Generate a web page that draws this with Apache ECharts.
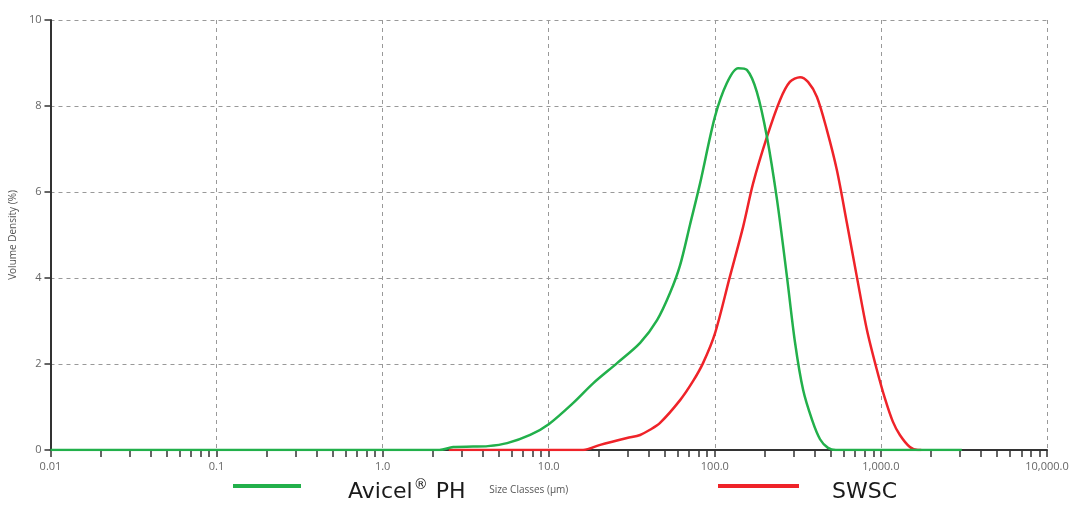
<!DOCTYPE html>
<html>
<head>
<meta charset="utf-8">
<script src="https://cdn.jsdelivr.net/npm/echarts@6/dist/echarts.min.js"></script>
<style>html,body{margin:0;padding:0;background:#fff}#c{width:1076px;height:508px}</style>
</head>
<body>
<div id="c"></div>
<script>
// ---- data ----
const seriesNames = ['Avicel® PH', 'SWSC'];
const avicelSize = [0.01, 2.2, 2.66, 3.5, 4.3, 5.62, 7.73, 10, 14.0, 18.5, 25.8, 35.5, 44.9, 53.7, 61.8, 71.0, 81.5, 100, 118, 138, 156, 179, 206, 237, 272, 304, 340, 385, 430, 480, 536, 3070];
const avicelVal  = [0, 0, 0.07, 0.08, 0.09, 0.16, 0.35, 0.6, 1.09, 1.55, 2.02, 2.49, 3.02, 3.65, 4.3, 5.25, 6.2, 7.74, 8.53, 8.88, 8.84, 8.33, 7.28, 5.81, 4.02, 2.5, 1.4, 0.7, 0.25, 0.05, 0, 0];
const swscSize = [2.5, 16.1, 20.4, 29.6, 35.5, 40.7, 46.8, 61.8, 73.9, 84.9, 100, 123, 148, 170, 206, 247, 283, 326, 364, 412, 473, 543, 624, 717, 824, 946, 1057, 1180, 1301, 1494, 1670, 1750];
const swscVal  = [0, 0, 0.12, 0.28, 0.35, 0.47, 0.63, 1.16, 1.6, 2.02, 2.7, 4.02, 5.19, 6.2, 7.28, 8.14, 8.56, 8.67, 8.56, 8.21, 7.44, 6.51, 5.28, 4.02, 2.79, 1.86, 1.2, 0.66, 0.35, 0.07, 0, 0];
const xMajorTicks = [0.01, 0.1, 1, 10, 100, 1000, 10000];
const xTickLabels = ['0.01', '0.1', '1.0', '10.0', '100.0', '1,000.0', '10,000.0'];
const yTicks = [0, 2, 4, 6, 8, 10];
const xAxisName = 'Size Classes (µm)';
const yAxisName = 'Volume Density (%)';

// minor tick values (2..9 per decade)
const xMinorTicks = [];
for (let d = 0; d < xMajorTicks.length; d++) {
  const base = xMajorTicks[d];
  xMinorTicks.push(base);
  if (d < xMajorTicks.length - 1) {
    for (let k = 2; k <= 9; k++) xMinorTicks.push(+(base * k).toPrecision(6));
  }
}

const pairs = (xs, ys) => xs.map((x, i) => [x, ys[i]]);
const labelFor = v => {
  const i = xMajorTicks.findIndex(t => Math.abs(Math.log10(t) - Math.log10(v)) < 1e-6);
  return i >= 0 ? xTickLabels[i] : '';
};

const font = '"Open Sans", "Noto Sans", sans-serif';
const legendFont = '"DejaVu Sans", sans-serif';
const legendRich = {
  t: {fontFamily: legendFont, fontSize: 22, color: '#1a1a1a', padding: [12, 0, 0, 0]},
  sup: {fontFamily: legendFont, fontSize: 14, color: '#1a1a1a', padding: [0, 1, 2, 1]}
};
const chart = echarts.init(document.getElementById('c'), null, {renderer: 'canvas'});
chart.setOption({
  animation: false,
  grid: {left: 50, right: 29, top: 20, bottom: 58, containLabel: false},
  legend: [
    {
      left: 233, top: 478, padding: 0, data: [seriesNames[0]],
      icon: 'rect', itemWidth: 68, itemHeight: 4,
      formatter: n => '{t|Avicel}{sup|®}{t| PH}',
      textStyle: {padding: [0, 0, 0, 42], rich: legendRich}
    },
    {
      left: 718, top: 481, padding: 0, data: [seriesNames[1]],
      icon: 'rect', itemWidth: 81, itemHeight: 4,
      formatter: n => '{t|' + n + '}',
      textStyle: {padding: [0, 0, 0, 28], rich: legendRich}
    }
  ],
  xAxis: [
    {
      type: 'log', logBase: 10, min: 0.01, max: 10000,
      name: xAxisName, nameLocation: 'middle', nameGap: 35,
      nameTextStyle: {fontFamily: font, fontSize: 10, color: '#555', padding: [0, 40, 0, 0]},
      axisLine: {show: true, lineStyle: {color: '#333', width: 2}},
      axisTick: {show: false},
      axisLabel: {
        fontFamily: font, fontSize: 11, color: '#666', margin: 11,
        formatter: v => labelFor(v), showMinLabel: true, showMaxLabel: true
      },
      splitLine: {show: true, lineStyle: {color: '#999', type: [4, 4], width: 1}}
    },
    {
      type: 'log', logBase: 10, min: 0.01, max: 10000, position: 'bottom',
      axisLine: {show: false},
      axisTick: {show: true, inside: false, length: 7, customValues: xMinorTicks, lineStyle: {color: '#333', width: 1.5}},
      axisLabel: {show: false},
      splitLine: {show: false}
    }
  ],
  yAxis: {
    type: 'value', min: 0, max: 10, interval: 2,
    name: yAxisName, nameLocation: 'middle', nameGap: 32,
    nameTextStyle: {fontFamily: font, fontSize: 10, color: '#555'},
    axisLine: {show: true, lineStyle: {color: '#333', width: 2}},
    axisTick: {show: true, length: 6, lineStyle: {color: '#333', width: 1.5}},
    axisLabel: {fontFamily: font, fontSize: 11, color: '#666', margin: 9,
      formatter: v => (yTicks.indexOf(v) >= 0 ? String(v) : '')},
    splitLine: {show: true, lineStyle: {color: '#999', type: [4, 4], width: 1}}
  },
  series: [
    {
      name: seriesNames[0], type: 'line', xAxisIndex: 0,
      data: pairs(avicelSize, avicelVal),
      smooth: 0.3, showSymbol: false, symbol: 'none',
      lineStyle: {color: '#22b04b', width: 2.5}, itemStyle: {color: '#22b04b'}, z: 3
    },
    {
      name: seriesNames[1], type: 'line', xAxisIndex: 0,
      data: pairs(swscSize, swscVal),
      smooth: 0.3, showSymbol: false, symbol: 'none',
      lineStyle: {color: '#ef2329', width: 2.5}, itemStyle: {color: '#ef2329'}, z: 2
    }
  ]
});
</script>
</body>
</html>
